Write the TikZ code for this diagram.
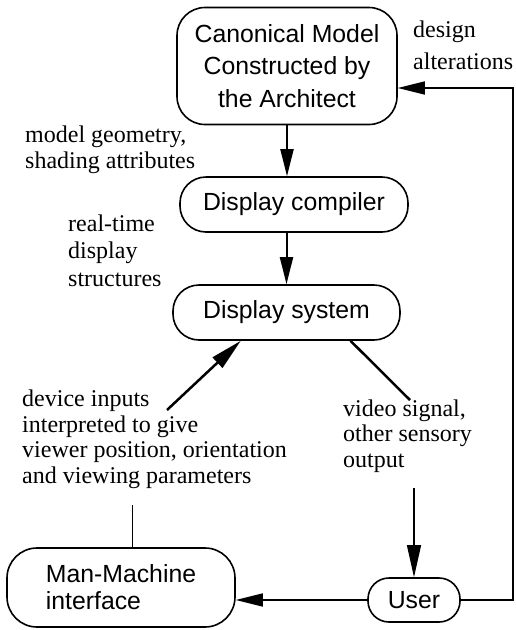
\documentclass[tikz,border=0pt]{standalone}
\usepackage{fontspec}
\setmainfont{Liberation Serif}
\setsansfont{Liberation Sans}
\usetikzlibrary{arrows.meta,calc}
\begin{document}
\begin{tikzpicture}[x=1pt,y=-1pt,
  box/.style={draw,line width=1.6pt,font=\sffamily\fontsize{24.8}{32.5}\selectfont,inner sep=0pt,align=center},
  lbl/.style={font=\fontsize{24}{25.5}\selectfont,align=left,anchor=base west,inner sep=0pt},
  arr/.style={line width=2pt,-{Triangle[length=27pt,width=13pt]}},
  thinline/.style={line width=1pt}]
\useasboundingbox (0,0) rectangle (516,630);

% process boxes
\node[box,minimum width=220pt,minimum height=117pt,rounded corners=28pt] (canon) at (287,66)
  {Canonical Model\\Constructed by\\the Architect};
\node[box,minimum width=228pt,minimum height=55pt,rounded corners=26pt] (comp) at (294,204.5)
  {Display compiler};
\node[box,minimum width=227pt,minimum height=55pt,rounded corners=26pt] (sys) at (286.5,312.5)
  {Display system};
\node[box,minimum width=228pt,minimum height=79pt,rounded corners=30pt,align=left,
  font=\sffamily\fontsize{24.8}{27}\selectfont] (mmi) at (121,587.5)
  {Man-Machine\\interface};
\node[box,minimum width=92pt,minimum height=44pt,rounded corners=21pt] (user) at (414,600)
  {User};

% flow labels (anchored at the baseline of their last line)
\node[lbl,font=\fontsize{24}{32}\selectfont] (design) at (413,69) {design\\alterations};
\node[lbl] (geom) at (25,168) {model geometry,\\shading attributes};
\node[lbl,font=\fontsize{24}{27.5}\selectfont] (rt) at (68,286) {real-time\\display\\structures};
\node[lbl] (dev) at (22,483) {device inputs\\interpreted to give\\viewer position, orientation\\and viewing parameters};
\node[lbl] (vid) at (343,467) {video signal,\\other sensory\\output};

% connectors
\draw[arr] (canon.south) -- (canon.south |- comp.north);
\draw[arr] (sys.north |- comp.south) -- (sys.north);
\coordinate (din) at (167,410);
\draw[arr,line width=2.5pt,-{Triangle[length=32pt,width=14pt]}] (din) -- ($(sys.south west)!0.3!(sys.south east)$);
\coordinate (vout) at (410,400);
\draw[line width=2.5pt] ($(sys.south west)!0.78!(sys.south east)$) -- (vout);
\coordinate (pin) at (132,505);
\draw[thinline] (pin) -- (pin |- mmi.north);
\coordinate (vin) at (414,488);
\draw[arr,line width=1.2pt,-{Triangle[length=32pt,width=14pt]}] (vin) -- (user.north);
\draw[arr,line width=1.6pt] (user.west) -- (user.west -| mmi.east);
\coordinate (fb) at (513,88);
\draw[arr,line width=1.6pt] (user.east) -| (fb) -- (fb -| canon.east);
\end{tikzpicture}
\end{document}
